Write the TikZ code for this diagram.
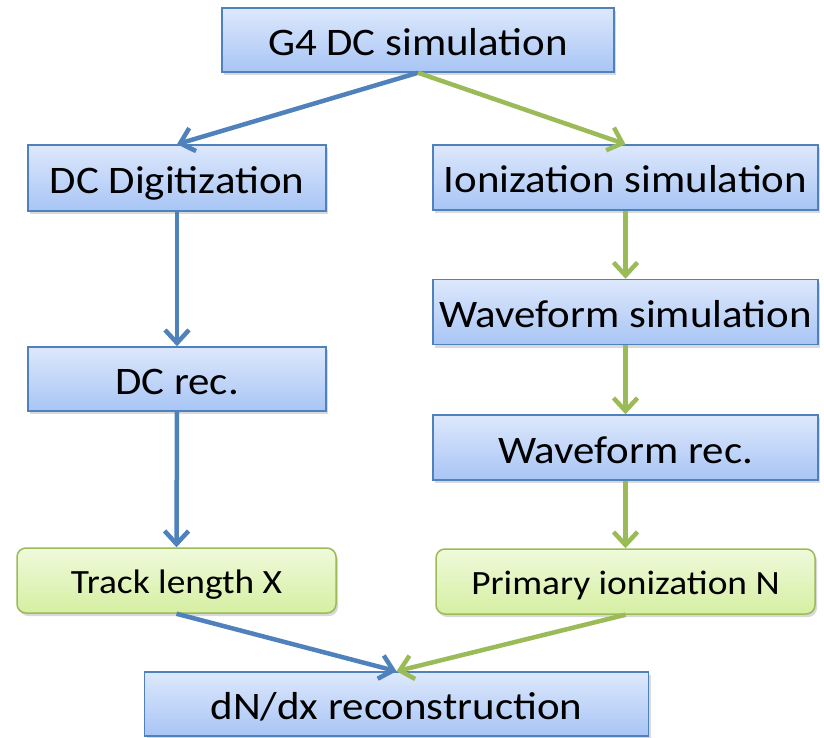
\documentclass[tikz,border=0pt]{standalone}
\usepackage{fontspec}
\setmainfont{Carlito}[FakeStretch=1.1]
\usetikzlibrary{arrows.meta,shadows}
\definecolor{bbord}{HTML}{4F81BD}
\definecolor{btop}{HTML}{DDE8FC}
\definecolor{bbot}{HTML}{A8C5F5}
\definecolor{gbord}{HTML}{9BBB59}
\definecolor{gtop}{HTML}{EFFADB}
\definecolor{gbot}{HTML}{D5EFA2}
\tikzset{
  bluebox/.style={draw=bbord, line width=1.5pt, top color=btop, bottom color=bbot,
    drop shadow={shadow xshift=2pt, shadow yshift=-3pt, opacity=0.3},
    inner sep=0pt, text height=35pt, text depth=4pt, font=\fontsize{39}{44}\selectfont},
  greenbox/.style={draw=gbord, line width=1.5pt, rounded corners=9pt, top color=gtop, bottom color=gbot,
    drop shadow={shadow xshift=2pt, shadow yshift=-3pt, opacity=0.3},
    inner sep=0pt, text height=29pt, text depth=4pt, font=\fontsize{34}{40}\selectfont},
  bluearrow/.style={draw=bbord, line width=4.5pt, -{Straight Barb[length=13pt,width=24pt]}},
  greenarrow/.style={draw=gbord, line width=4.5pt, -{Straight Barb[length=13pt,width=24pt]}}
}
\begin{document}
\begin{tikzpicture}[x=1pt,y=-1pt]
\useasboundingbox (0,0) rectangle (824,738);
\node[bluebox, minimum width=392pt, minimum height=64pt] (g4) at (418,40) {G4 DC simulation};
\node[bluebox, minimum width=298pt, minimum height=66pt] (dig) at (177,178) {DC Digitization};
\node[bluebox, minimum width=385pt, minimum height=65pt] (ion) at (625.5,177.5) {Ionization simulation};
\node[bluebox, minimum width=385pt, minimum height=65pt] (wsim) at (625.5,312) {Waveform simulation};
\node[bluebox, minimum width=298pt, minimum height=64pt] (dcrec) at (177,379) {DC rec.};
\node[bluebox, minimum width=385pt, minimum height=65pt] (wrec) at (625.5,447.5) {Waveform rec.};
\node[greenbox, minimum width=319pt, minimum height=65pt] (track) at (176.5,580.5) {Track length X};
\node[greenbox, minimum width=379pt, minimum height=65pt] (prim) at (625.5,581.5) {Primary ionization N};
\node[bluebox, minimum width=504pt, minimum height=64pt] (dndx) at (396.5,704) {dN/dx reconstruction};
\draw[bluearrow] (g4.south) -- (dig.north);
\draw[greenarrow] (g4.south) -- (ion.north);
\draw[bluearrow] (dig.south) -- (dcrec.north);
\draw[bluearrow] (dcrec.south) -- (track.north);
\draw[greenarrow] (ion.south) -- (wsim.north);
\draw[greenarrow] (wsim.south) -- (wrec.north);
\draw[greenarrow] (wrec.south) -- (prim.north);
\draw[bluearrow] (track.south) -- (dndx.north);
\draw[greenarrow] (prim.south) -- (dndx.north);
\end{tikzpicture}
\end{document}
